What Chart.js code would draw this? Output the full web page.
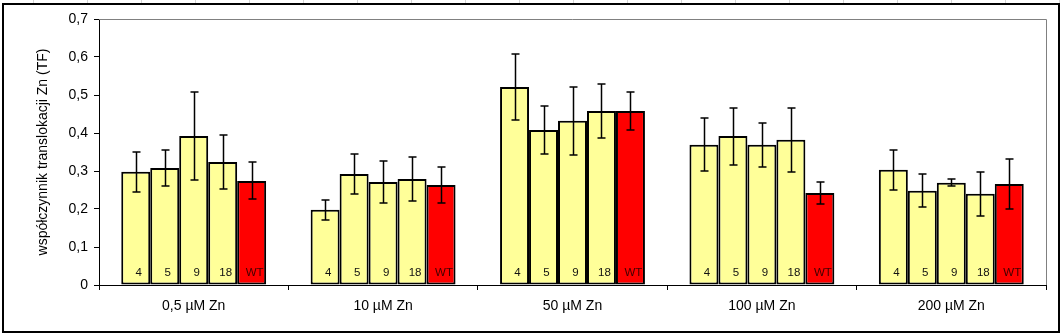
<!DOCTYPE html>
<html>
<head>
<meta charset="utf-8">
<script src="https://cdn.jsdelivr.net/npm/chart.js@4/dist/chart.umd.min.js"></script>
<style>
  body { margin: 0; background: #fff; }
  canvas { display: block; }
</style>
</head>
<body>
<canvas id="tfChart" width="1062" height="335"></canvas>
<script>
// zinc concentrations and plant lines
var concentrations = ['0,5 µM Zn', '10 µM Zn', '50 µM Zn', '100 µM Zn', '200 µM Zn'];
var lines = ['4', '5', '9', '18', 'WT'];

// translocation factor means
var tf4  = [0.298, 0.198, 0.521, 0.369, 0.303];
var tf5  = [0.308, 0.292, 0.408, 0.392, 0.248];
var tf9  = [0.392, 0.271, 0.432, 0.369, 0.269];
var tf18 = [0.324, 0.279, 0.458, 0.382, 0.240];
var tfWT = [0.274, 0.263, 0.458, 0.242, 0.266];

// standard deviations
var sd4  = [0.053, 0.027, 0.086, 0.070, 0.053];
var sd5  = [0.047, 0.052, 0.063, 0.075, 0.043];
var sd9  = [0.115, 0.055, 0.090, 0.058, 0.009];
var sd18 = [0.071, 0.057, 0.070, 0.085, 0.058];
var sdWT = [0.049, 0.047, 0.051, 0.028, 0.065];

var yTicks = [0, 0.1, 0.2, 0.3, 0.4, 0.5, 0.6, 0.7];

var means = [tf4, tf5, tf9, tf18, tfWT];
var sds = [sd4, sd5, sd9, sd18, sdWT];

var datasets = [];
for (var i = 0; i < lines.length; i++) {
    datasets.push({
        label: lines[i],
        data: means[i],
        sd: sds[i],
        backgroundColor: lines[i] == 'WT' ? '#ff0000' : '#ffff99',
        borderColor: '#000000',
        borderWidth: 2,
        borderSkipped: false,
        categoryPercentage: 0.765,
        barPercentage: 1
    });
}

// frame, sheet grid and plot area border
var framePlugin = {
    id: 'frame',
    beforeDraw: function(chart) {
        var ctx = chart.ctx;
        ctx.save();
        ctx.fillStyle = '#fff';
        ctx.fillRect(0, 0, chart.width, chart.height);
        ctx.strokeStyle = '#d4d4d4';
        ctx.lineWidth = 1;
        for (var x = 33.5; x < chart.width; x += 54) {
            ctx.beginPath();
            ctx.moveTo(x, 0);
            ctx.lineTo(x, 3);
            ctx.stroke();
        }
        ctx.strokeStyle = '#000';
        ctx.lineWidth = 2;
        ctx.strokeRect(3, 4, 1056, 328);
        ctx.restore();
    },
    beforeDatasetsDraw: function(chart) {
        var a = chart.chartArea;
        var ctx = chart.ctx;
        ctx.save();
        ctx.strokeStyle = '#808080';
        ctx.lineWidth = 1;
        ctx.beginPath();
        ctx.moveTo(a.left, a.top + 0.5);
        ctx.lineTo(a.right + 0.5, a.top + 0.5);
        ctx.lineTo(a.right + 0.5, a.bottom);
        ctx.stroke();
        ctx.restore();
    }
};

// error bars and line names inside bars
var barExtras = {
    id: 'barExtras',
    afterDatasetsDraw: function(chart) {
        var ctx = chart.ctx;
        var y = chart.scales.y;
        ctx.save();
        chart.data.datasets.forEach(function(ds, di) {
            var meta = chart.getDatasetMeta(di);
            meta.data.forEach(function(bar, j) {
                var v = ds.data[j], s = ds.sd[j];
                var top = Math.round(y.getPixelForValue(v + s));
                var bot = Math.round(y.getPixelForValue(v - s));
                var x = Math.round(bar.x) + 0.5;
                ctx.strokeStyle = '#000';
                ctx.lineWidth = 1.5;
                ctx.beginPath();
                ctx.moveTo(x, top);
                ctx.lineTo(x, bot);
                ctx.moveTo(x - 4, top);
                ctx.lineTo(x + 4, top);
                ctx.moveTo(x - 4, bot);
                ctx.lineTo(x + 4, bot);
                ctx.stroke();

                ctx.fillStyle = ds.label == 'WT' ? '#400000' : '#111';
                ctx.font = '11.5px "Liberation Sans", Arial, sans-serif';
                ctx.textAlign = 'center';
                ctx.textBaseline = 'middle';
                ctx.fillText(ds.label, bar.x + 3, 273);
            });
        });
        ctx.restore();
    }
};

var chart = new Chart(document.getElementById('tfChart').getContext('2d'), {
    type: 'bar',
    data: {
        labels: concentrations,
        datasets: datasets
    },
    options: {
        responsive: false,
        animation: false,
        layout: { padding: { top: 19, right: 16, left: 0, bottom: 0 } },
        plugins: {
            legend: { display: false },
            tooltip: { enabled: false }
        },
        scales: {
            x: {
                grid: {
                    display: true,
                    offset: true,
                    drawOnChartArea: false,
                    drawTicks: true,
                    tickLength: 5,
                    color: '#000'
                },
                border: { color: '#000', width: 1 },
                ticks: {
                    color: '#000',
                    padding: 8,
                    font: { family: '"Liberation Sans", Arial, sans-serif', size: 14 }
                },
                afterFit: function(scale) { scale.height = 50; }
            },
            y: {
                min: 0,
                max: 0.7,
                afterBuildTicks: function(scale) {
                    scale.ticks = yTicks.map(function(v) { return { value: v }; });
                },
                grid: {
                    display: true,
                    drawOnChartArea: false,
                    drawTicks: true,
                    tickLength: 5,
                    color: '#000'
                },
                border: { color: '#000', width: 1 },
                ticks: {
                    color: '#000',
                    padding: 6,
                    font: { family: '"Liberation Sans", Arial, sans-serif', size: 14 },
                    callback: function(v) {
                        return v === 0 ? '0' : v.toFixed(1).replace('.', ',');
                    }
                },
                title: {
                    display: true,
                    text: 'współczynnik translokacji Zn (TF)',
                    color: '#000',
                    padding: { top: 35, bottom: 0 },
                    font: { family: '"Liberation Sans", Arial, sans-serif', size: 14 }
                },
                afterFit: function(scale) { scale.width = 99; }
            }
        }
    },
    plugins: [framePlugin, barExtras]
});
</script>
</body>
</html>
